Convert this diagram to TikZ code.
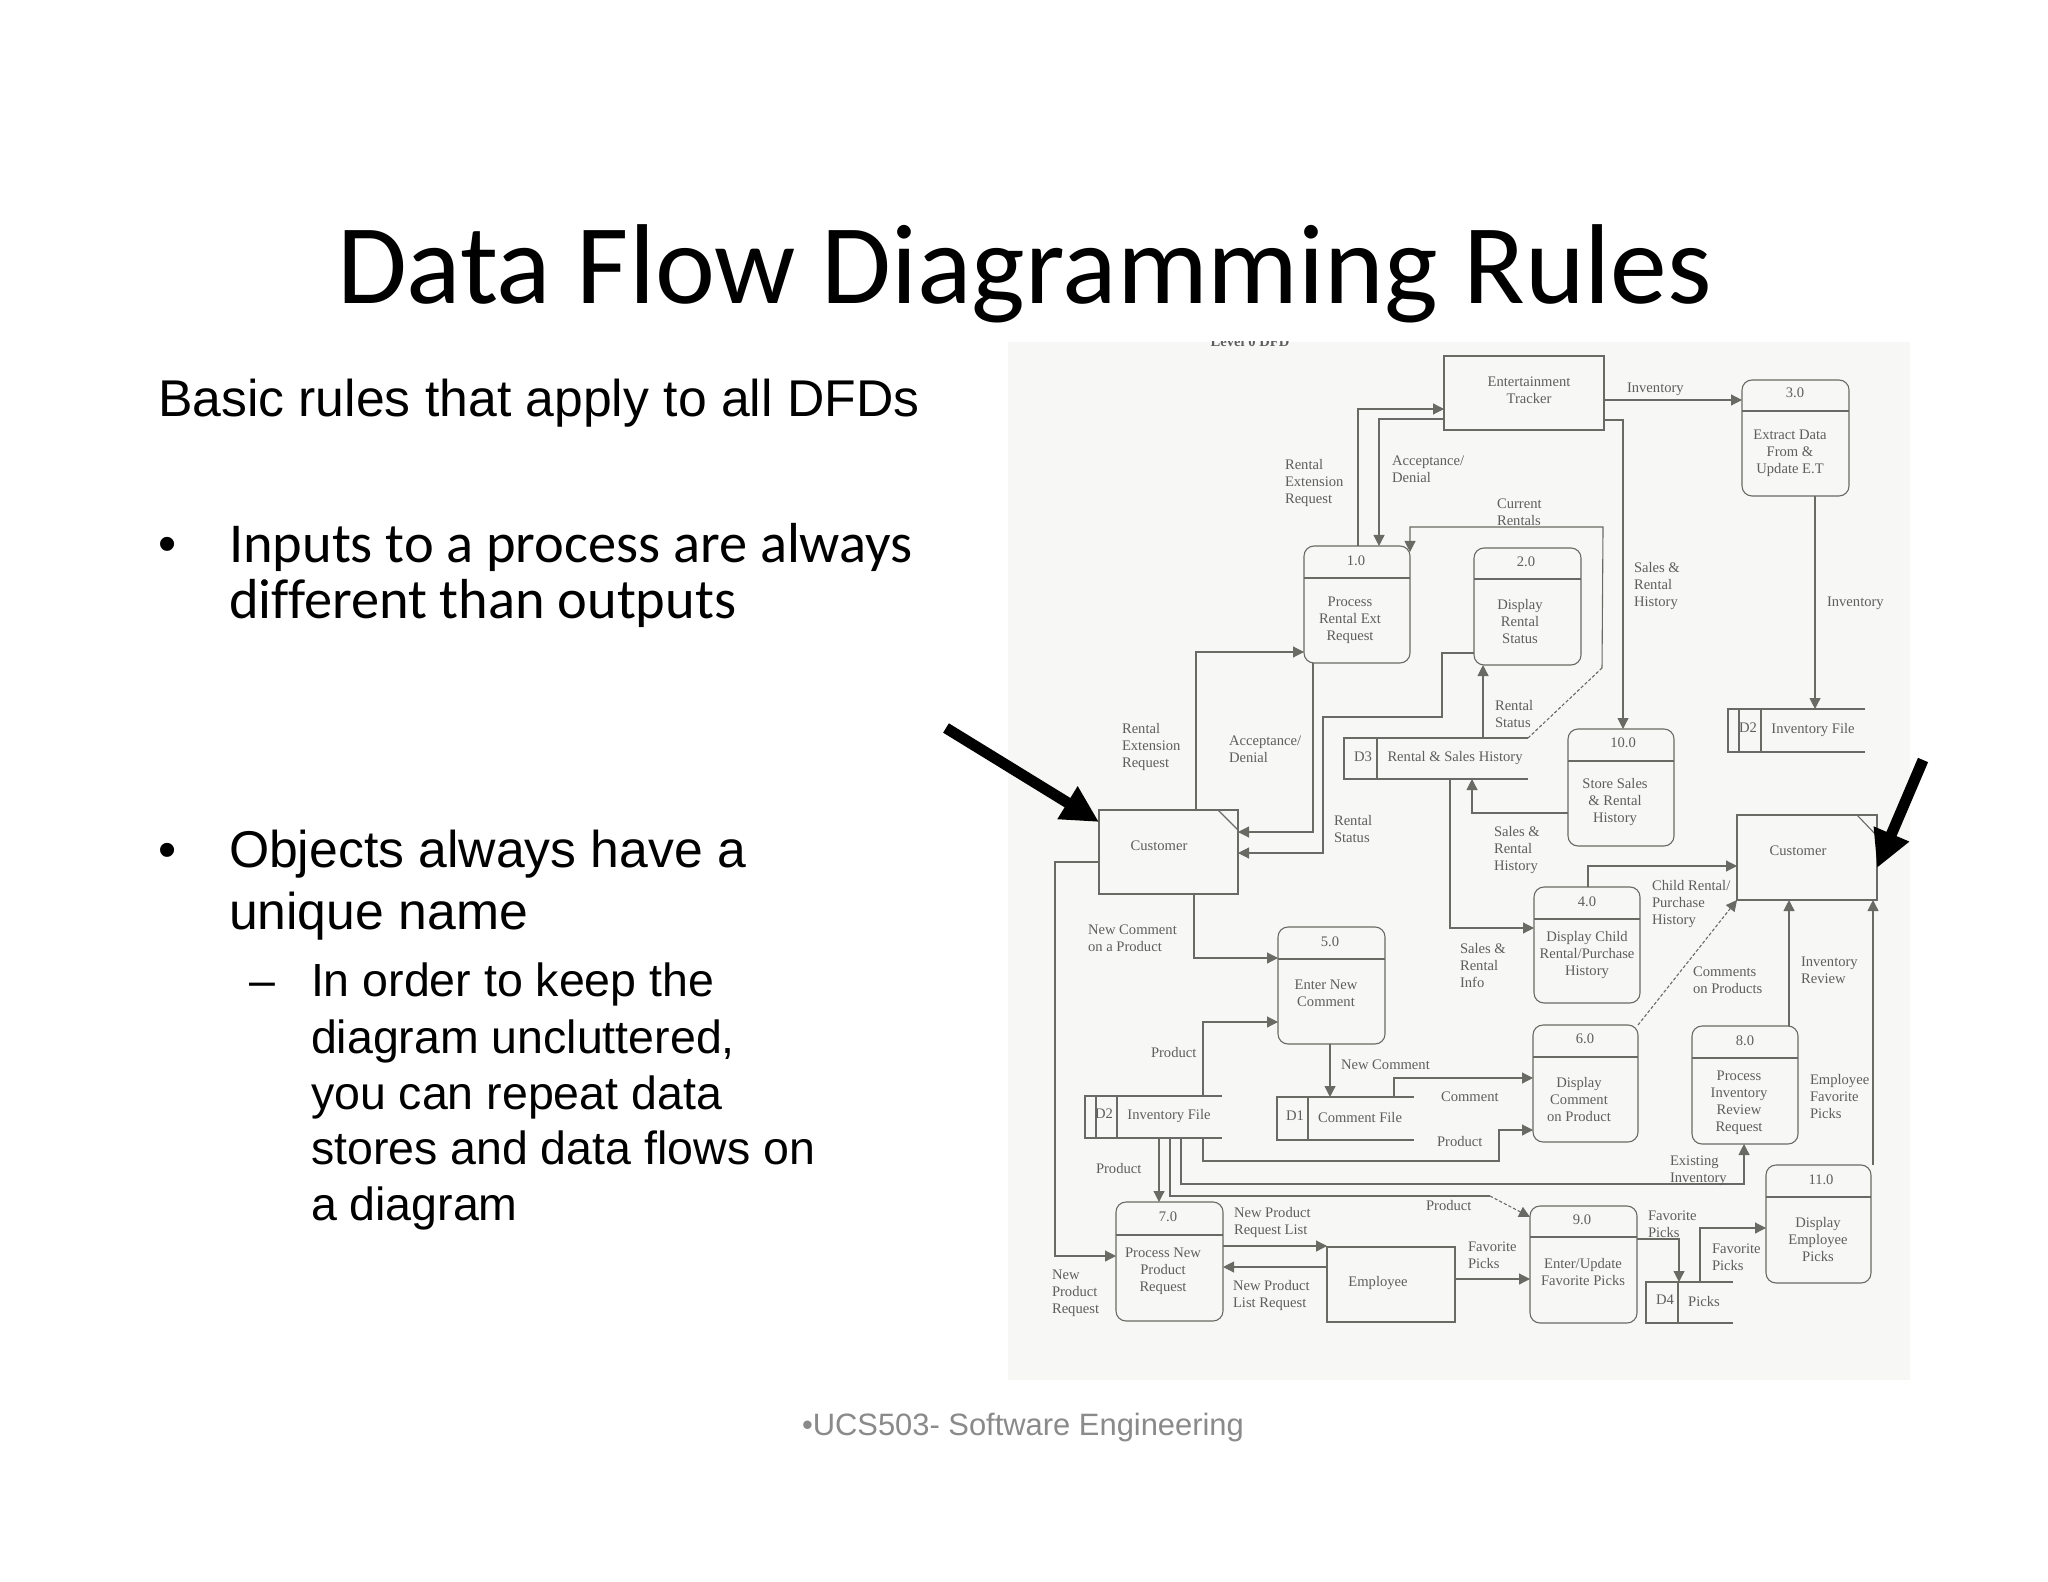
\documentclass[tikz,border=0pt]{standalone}
\usepackage{fontspec}
\setmainfont{Liberation Sans}
\newfontfamily\carl[Ligatures=NoCommon]{Carlito}
\newfontfamily\dfd{Liberation Serif}
\usetikzlibrary{arrows.meta}
\definecolor{inkl}{HTML}{6A6A64}
\definecolor{inkt}{HTML}{5E5E5E}
\definecolor{paper}{HTML}{F7F7F5}
\definecolor{foot}{HTML}{8A8A8A}
\tikzset{
  edge/.style={draw=inkl,line width=0.55pt,line join=miter},
  flow/.style={edge,-{Triangle[length=5.5pt,width=5.5pt]}},
  dotflow/.style={flow,dash pattern=on 1.6pt off 1pt},
  dotedge/.style={edge,dash pattern=on 1.6pt off 1pt},
  procbox/.style={edge,rectangle,rounded corners=5pt,inner sep=0,outer sep=0},
  entbox/.style={edge,rectangle,inner sep=0,outer sep=0},
  storebox/.style={rectangle,inner sep=0,outer sep=0},
  txt/.style={inner sep=0,outer sep=0,align=center,text=inkt,font=\dfd\fontsize{7.3}{8.5}\selectfont},
  lab/.style={txt,anchor=west,align=left},
  big/.style={line width=5.5pt,draw=black,-{Triangle[length=18.5pt,width=18pt]}},
  slide/.style={anchor=base west,inner sep=0,outer sep=0,text=black},
  carlb/.style={slide,font=\carl\fontsize{28.2}{30}\selectfont},
  ariab/.style={slide,font=\fontsize{25.85}{30}\selectfont},
  arias/.style={slide,font=\fontsize{23.25}{28}\selectfont},
}
\newcommand{\Proc}[6]{%
  \node[procbox,minimum width=\fpeval{(#4-#2)*0.5}pt,minimum height=\fpeval{(#5-#3)*0.5}pt] (#1) at ({(#2+#4)/2},{(#3+#5)/2}) {};
  \draw[edge] (#1.west |- 0,#6) -- (#1.east |- 0,#6);}
\newcommand{\Ent}[5]{%
  \node[entbox,minimum width=\fpeval{(#4-#2)*0.5}pt,minimum height=\fpeval{(#5-#3)*0.5}pt] (#1) at ({(#2+#4)/2},{(#3+#5)/2}) {};}
\newcommand{\Store}[6]{%
  \node[storebox,minimum width=\fpeval{(#4-#2)*0.5}pt,minimum height=\fpeval{(#5-#3)*0.5}pt] (#1) at ({(#2+#4)/2},{(#3+#5)/2}) {};
  \draw[edge] (#1.north east) -- (#1.north west) -- (#1.south west) -- (#1.south east);
  \foreach \dx in {#6} {\draw[edge] (#1.north -| \dx,0) -- (#1.south -| \dx,0);}}
\begin{document}
\begin{tikzpicture}[x=0.5pt,y=-0.5pt]
\useasboundingbox (0,0) rectangle (2048,1582);
\fill[white] (0,0) rectangle (2048,1582);
% scanned sheet
\fill[paper] (1008,342) rectangle (1910,1380);
\begin{scope}
\clip (1008,342) rectangle (1910,1380);
\node[inner sep=0,anchor=base,text=inkt,font=\dfd\bfseries\fontsize{7.3}{8.5}\selectfont] (lvl) at (1250,347) {Level 0 DFD};
\end{scope}
% slide text
\node[slide,font=\carl\fontsize{56.8}{60}\selectfont] (title) at (337,304) {Data Flow Diagramming Rules};
\node[ariab] (basic) at (158,417) {Basic rules that apply to all DFDs};
\node[ariab] (b1) at (158,561) {•};
\node[carlb] (i1) at (229,563) {Inputs to a process are always};
\node[carlb] (i2) at (229,618) {different than outputs};
\node[ariab] (b2) at (158,867) {•};
\node[ariab] (o1) at (229,867) {Objects always have a};
\node[ariab] (o2) at (229,929) {unique name};
\node[arias] (d1) at (249,996) {–};
\node[arias] (s1) at (311,996) {In order to keep the};
\node[arias] (s2) at (311,1053) {diagram uncluttered,};
\node[arias] (s3) at (311,1109) {you can repeat data};
\node[arias] (s4) at (311,1164) {stores and data flows on};
\node[arias] (s5) at (311,1220) {a diagram};
\node[slide,text=foot,font=\fontsize{15.45}{18}\selectfont] (foot) at (802,1435) {•UCS503- Software Engineering};
% processes
\Proc{p1}{1304}{546}{1410}{663}{578}
\Proc{p2}{1474}{548}{1581}{665}{579}
\Proc{p3}{1742}{380}{1849}{496}{411}
\Proc{p4}{1534}{887}{1640}{1003}{919}
\Proc{p5}{1278}{927}{1385}{1044}{959}
\Proc{p6}{1533}{1025}{1638}{1142}{1057}
\Proc{p7}{1116}{1202}{1223}{1321}{1235}
\Proc{p8}{1692}{1026}{1798}{1144}{1058}
\Proc{p9}{1530}{1206}{1637}{1323}{1237}
\Proc{p10}{1568}{729}{1674}{846}{761}
\Proc{p11}{1766}{1165}{1871}{1283}{1197}
% entities
\Ent{et}{1444}{356}{1604}{430}
\Ent{cl}{1099}{810}{1238}{894}
\Ent{cr}{1737}{815}{1877}{900}
\Ent{emp}{1327}{1247}{1455}{1322}
\draw[edge] (cl.north east -| 1218,0) -- (cl.east |- 0,830);
\draw[edge] (cr.north east -| 1857,0) -- (cr.east |- 0,836);
% data stores
\Store{d3}{1344}{738}{1528}{779}{1377}
\Store{d2a}{1728}{709}{1865}{752}{1739,1761}
\Store{d2b}{1085}{1096}{1222}{1138}{1096,1117}
\Store{d1}{1277}{1097}{1414}{1140}{1308}
\Store{d4}{1646}{1282}{1733}{1323}{1678}
% connectors
\draw[flow] (p1.north -| 1358,0) |- (et.west |- 0,409);
\draw[flow] (et.west |- 0,419) -| (p1.north -| 1379,0);
\coordinate (cu) at (1602,668);
\draw[dotedge] (d3.north east) -- (cu);
\draw[flow] (cu) -- (1603,527) -| (p1.east |- 0,552);
\draw[flow] (cl.north -| 1196,0) |- (p1.west |- 0,652);
\draw[flow] (p1.south -| 1313,0) |- (cl.east |- 0,832);
\draw[flow] (p2.west |- 0,653) -- (1442,653) -- (1442,717) -- (1323,717) |- (cl.east |- 0,853);
\draw[flow] (d3.north -| 1483,0) -- (p2.south -| 1483,0);
\draw[flow] (et.east |- 0,420) -| (p10.north -| 1623,0);
\draw[flow] (et.east |- 0,400) -- (p3.west |- 0,400);
\draw[flow] (p3.south -| 1815,0) -- (d2a.north -| 1815,0);
\draw[flow] (p10.west |- 0,813) -| (d3.south -| 1472,0);
\draw[flow] (d3.south -| 1450,0) |- (p4.west |- 0,928);
\draw[flow] (p4.north -| 1588,0) |- (cr.west |- 0,866);
\draw[dotflow] (p6.north east) -- (cr.south west);
\draw[flow] (p8.north -| 1789,0) -- (cr.south -| 1789,0);
\draw[flow] (p11.north -| 1873,0) -- (cr.south -| 1873,0);
\draw[flow] (cl.south -| 1194,0) |- (p5.west |- 0,958);
\draw[flow] (cl.west |- 0,862) -- (1055,862) |- (p7.west |- 0,1256);
\draw[flow] (d2b.north -| 1203,0) |- (p5.west |- 0,1022);
\draw[flow] (p5.south -| 1330,0) -- (d1.north -| 1330,0);
\draw[flow] (d1.north -| 1394,0) |- (p6.west |- 0,1078);
\draw[flow] (d2b.south -| 1203,0) |- (1499,1161) |- (p6.west |- 0,1130);
\draw[flow] (d2b.south -| 1181,0) |- (1744,1184) -- (p8.south -| 1744,0);
\coordinate (pr) at (1490,1196);
\draw[edge] (d2b.south -| 1170,0) |- (pr);
\draw[dotflow] (pr) -- (p9.west |- 0,1217);
\draw[flow] (d2b.south -| 1159,0) -- (p7.north -| 1159,0);
\draw[flow] (p7.east |- 0,1246) -- (emp.west |- 0,1246);
\draw[flow] (emp.west |- 0,1267) -- (p7.east |- 0,1267);
\draw[flow] (emp.east |- 0,1279) -- (p9.west |- 0,1279);
\draw[flow] (p9.east |- 0,1239) -| (d4.north -| 1679,0);
\draw[flow] (d4.north -| 1700,0) |- (p11.west |- 0,1228);
% process and entity texts
\node[txt] (t1n) at (1356,561) {1.0};
\node[txt] (t1) at (1350,620) {Process\\Rental Ext\\Request};
\node[txt] (t2n) at (1526,562) {2.0};
\node[txt] (t2) at (1520,622) {Display\\Rental\\Status};
\node[txt] (t3n) at (1795,393) {3.0};
\node[txt] (t3) at (1790,453) {Extract Data\\From \&\\Update E.T};
\node[txt] (t4n) at (1587,902) {4.0};
\node[txt] (t4) at (1587,955) {Display Child\\Rental/Purchase\\History};
\node[txt] (t5n) at (1330,942) {5.0};
\node[txt] (t5) at (1326,993) {Enter New\\Comment};
\node[txt] (t6n) at (1585,1039) {6.0};
\node[txt] (t6) at (1579,1099) {Display\\Comment\\on Product};
\node[txt] (t7n) at (1168,1217) {7.0};
\node[txt] (t7) at (1163,1271) {Process New\\Product\\Request};
\node[txt] (t8n) at (1745,1041) {8.0};
\node[txt] (t8) at (1739,1103) {Process\\Inventory\\Review\\Request};
\node[txt] (t9n) at (1582,1220) {9.0};
\node[txt] (t9) at (1583,1272) {Enter/Update\\Favorite Picks};
\node[txt] (t10n) at (1623,743) {10.0};
\node[txt] (t10) at (1615,802) {Store Sales\\\& Rental\\History};
\node[txt] (t11n) at (1821,1180) {11.0};
\node[txt] (t11) at (1818,1239) {Display\\Employee\\Picks};
\node[txt] (tet) at (1529,390) {Entertainment\\Tracker};
\node[txt] (tcl) at (1159,846) {Customer};
\node[txt] (tcr) at (1798,851) {Customer};
\node[txt] (temp) at (1378,1283) {Employee};
\node[txt] (sd3) at (1363,757) {D3};
\node[txt] (nd3) at (1455,758) {Rental \& Sales History};
\node[txt] (sd2a) at (1748,728) {D2};
\node[txt] (nd2a) at (1813,730) {Inventory File};
\node[txt] (sd2b) at (1104,1114) {D2};
\node[txt] (nd2b) at (1169,1116) {Inventory File};
\node[txt] (sd1) at (1295,1116) {D1};
\node[txt] (nd1) at (1360,1117) {Comment File};
\node[txt] (sd4) at (1665,1300) {D4};
\node[txt] (nd4) at (1704,1301) {Picks};
% flow labels
\node[lab] (f1) at (1285,483) {Rental\\Extension\\Request};
\node[lab] (f2) at (1392,469) {Acceptance/\\Denial};
\node[lab] (f3) at (1497,512) {Current\\Rentals};
\node[lab] (f4) at (1627,389) {Inventory};
\node[lab] (f5) at (1634,586) {Sales \&\\Rental\\History};
\node[lab] (f6) at (1827,603) {Inventory};
\node[lab] (f7) at (1495,714) {Rental\\Status};
\node[lab] (f8) at (1122,747) {Rental\\Extension\\Request};
\node[lab] (f9) at (1229,749) {Acceptance/\\Denial};
\node[lab] (f10) at (1334,829) {Rental\\Status};
\node[lab] (f11) at (1494,850) {Sales \&\\Rental\\History};
\node[lab] (f12) at (1652,904) {Child Rental/\\Purchase\\History};
\node[lab] (f13) at (1088,938) {New Comment\\on a Product};
\node[lab] (f14) at (1460,965) {Sales \&\\Rental\\Info};
\node[lab] (f15) at (1693,980) {Comments\\on Products};
\node[lab] (f16) at (1801,970) {Inventory\\Review};
\node[lab] (f17) at (1151,1052) {Product};
\node[lab] (f18) at (1341,1065) {New Comment};
\node[lab] (f19) at (1441,1097) {Comment};
\node[lab] (f20) at (1437,1141) {Product};
\node[lab] (f21) at (1810,1096) {Employee\\Favorite\\Picks};
\node[lab] (f22) at (1670,1171) {Existing\\Inventory};
\node[lab] (f23) at (1096,1168) {Product};
\node[lab] (f24) at (1426,1205) {Product};
\node[lab] (f25) at (1234,1222) {New Product\\Request List};
\node[lab] (f26) at (1233,1295) {New Product\\List Request};
\node[lab] (f27) at (1052,1293) {New\\Product\\Request};
\node[lab] (f28) at (1468,1255) {Favorite\\Picks};
\node[lab] (f29) at (1648,1224) {Favorite\\Picks};
\node[lab] (f30) at (1712,1257) {Favorite\\Picks};
% callout arrows
\coordinate (a1s) at (946,728);
\coordinate (a2s) at (1923,760);
\draw[big] (a1s) -- (cl.north west |- 0,822);
\draw[big] (a2s) -- (cr.east |- 0,868);
\end{tikzpicture}
\end{document}
